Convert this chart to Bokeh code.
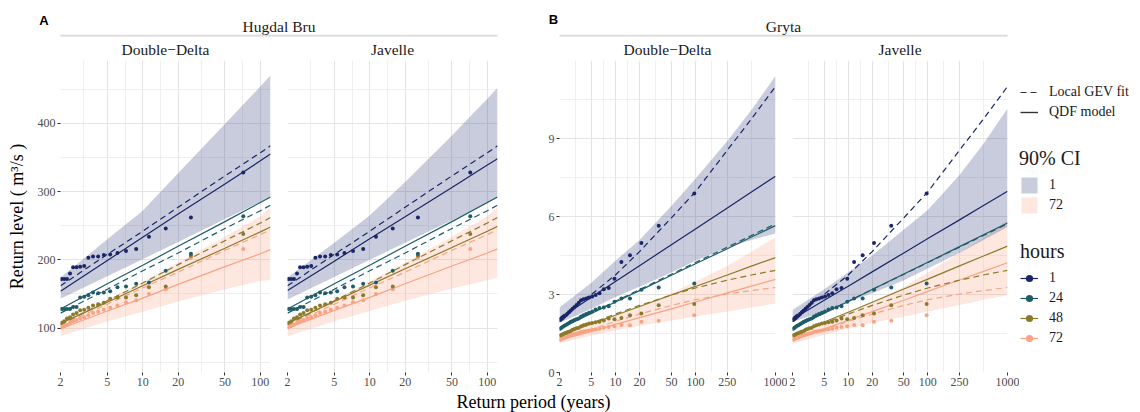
from bokeh.plotting import figure
from bokeh.layouts import row, column
from bokeh.models import (Range1d, FixedTicker, Label, BoxAnnotation, Legend,
                          LegendItem, NumeralTickFormatter)
from bokeh.embed import file_html
from bokeh.resources import INLINE

SERIF = "Liberation Serif"
SANS = "Liberation Sans"

# ------------------------------------------------------------------ data
hours = ["1", "24", "48", "72"]

# ---- Hugdal Bru (A)
hb_T = [2, 5, 10, 20, 50, 100, 122]
hb_gev_1 = [162, 208, 242, 277, 323, 357, 367]
hb_gev_24 = [122, 157, 184, 210, 246, 272, 280]
hb_gev_48 = [105, 140, 166, 193, 228, 254, 262]
hb_gev_72 = [104, 135, 159, 182, 214, 237, 244]

hb_dd_1 = [154, 199, 233, 267, 311, 345, 355]
hb_dd_24 = [128, 165, 192, 220, 256, 284, 292]
hb_dd_48 = [107, 138, 162, 186, 217, 241, 248]
hb_dd_72 = [99, 125, 144, 164, 190, 209, 215]

hb_jv_1 = [155, 198, 231, 263, 306, 339, 348]
hb_jv_24 = [128, 165, 192, 220, 256, 284, 292]
hb_jv_48 = [107, 139, 163, 187, 218, 242, 249]
hb_jv_72 = [100, 126, 145, 165, 191, 210, 216]

hb_dd_ci1_lo = [143, 176, 201, 226, 260, 285, 292]
hb_dd_ci1_hi = [174, 230, 272, 327, 399, 454, 470]
hb_dd_ci72_lo = [88, 110, 124, 139, 157, 169, 171]
hb_dd_ci72_hi = [109, 142, 168, 196, 234, 264, 277]

hb_jv_ci1_lo = [142, 175, 200, 225, 258, 283, 291]
hb_jv_ci1_hi = [174, 225, 265, 314, 382, 436, 452]
hb_jv_ci72_lo = [88, 110, 125, 140, 158, 170, 174]
hb_jv_ci72_hi = [109, 142, 168, 196, 234, 264, 277]

hb_pts_T = [71.6, 25.7, 15.7, 11.3, 8.80, 7.21, 6.10, 5.29, 4.67, 4.18,
            3.78, 3.45, 3.18, 2.94, 2.74, 2.56, 2.41, 2.27, 2.15, 2.04]
hb_pts_1 = [328, 262, 246, 234, 216, 213, 210, 208, 207, 205,
            205, 203, 191, 190, 189, 189, 180, 172, 172, 172]
hb_pts_24 = [264, 209, 184, 167, 165, 161, 160, 154, 152, 151,
             152, 148, 146, 145, 131, 131, 128, 128, 128, 128]
hb_pts_48 = [238, 206, 161, 160, 148, 145, 145, 143, 137, 135,
             133, 130, 127, 126, 122, 120, 116, 114, 110, 108]
hb_pts_72 = [216, 203, 157, 150, 141, 138, 133, 130, 127, 124,
             122, 119, 116, 114, 112, 110, 108, 105, 103, 101]

# ---- Gryta (B)
gr_T = [2, 5, 10, 20, 50, 100, 250, 500, 1000]
gr_gev_1 = [2.10, 3.00, 3.75, 4.65, 5.95, 6.95, 8.55, 9.75, 11.0]
gr_gev_24 = [1.70, 2.29, 2.74, 3.19, 3.78, 4.23, 4.82, 5.27, 5.72]
gr_gev_48 = [1.45, 1.90, 2.25, 2.58, 2.98, 3.25, 3.55, 3.75, 3.93]
gr_gev_72 = [1.25, 1.65, 1.97, 2.25, 2.58, 2.80, 3.02, 3.15, 3.27]

gr_dd_1 = [2.08, 2.89, 3.50, 4.11, 4.91, 5.52, 6.33, 6.94, 7.55]
gr_dd_24 = [1.68, 2.27, 2.71, 3.15, 3.74, 4.18, 4.76, 5.21, 5.65]
gr_dd_48 = [1.43, 1.87, 2.20, 2.54, 2.98, 3.31, 3.75, 4.09, 4.42]
gr_dd_72 = [1.24, 1.58, 1.85, 2.11, 2.45, 2.71, 3.06, 3.32, 3.58]

gr_jv_1 = [2.05, 2.78, 3.32, 3.87, 4.60, 5.15, 5.87, 6.42, 6.97]
gr_jv_24 = [1.68, 2.28, 2.73, 3.19, 3.79, 4.24, 4.84, 5.30, 5.75]
gr_jv_48 = [1.43, 1.94, 2.32, 2.70, 3.21, 3.59, 4.10, 4.48, 4.86]
gr_jv_72 = [1.24, 1.68, 2.01, 2.34, 2.78, 3.12, 3.56, 3.89, 4.22]

gr_dd_ci1_lo = [1.90, 2.45, 2.90, 3.30, 3.85, 4.30, 4.80, 5.10, 5.35]
gr_dd_ci1_hi = [2.50, 3.45, 4.30, 5.10, 6.40, 7.45, 8.90, 10.1, 11.4]
gr_dd_ci72_lo = [1.12, 1.42, 1.62, 1.80, 2.00, 2.15, 2.35, 2.50, 2.65]
gr_dd_ci72_hi = [1.45, 1.85, 2.20, 2.55, 3.05, 3.50, 4.10, 4.65, 5.20]

gr_jv_ci1_lo = [1.95, 2.35, 2.70, 3.05, 3.55, 4.00, 4.60, 5.10, 5.60]
gr_jv_ci1_hi = [2.40, 3.20, 3.85, 4.50, 5.50, 6.25, 7.60, 8.80, 10.15]
gr_jv_ci72_lo = [1.12, 1.45, 1.68, 1.90, 2.15, 2.35, 2.60, 2.80, 2.97]
gr_jv_ci72_hi = [1.45, 1.90, 2.30, 2.70, 3.30, 3.85, 4.60, 5.20, 5.86]

gr_pts_T = [96.6, 34.7, 21.1, 15.2, 11.87, 9.73, 8.24, 7.15, 6.32, 5.66,
            5.12, 4.68, 4.31, 3.99, 3.72, 3.48, 3.27, 3.08, 2.92, 2.77,
            2.63, 2.51, 2.40, 2.30, 2.20, 2.12, 2.04]
gr_pts_1 = [6.88, 5.64, 4.98, 4.51, 4.25, 3.61, 3.25, 3.20, 3.05, 2.98,
            2.92, 2.88, 2.85, 2.82, 2.78, 2.68, 2.60, 2.52, 2.45, 2.38,
            2.32, 2.26, 2.20, 2.15, 2.10, 2.06, 2.02]
gr_pts_24 = [3.42, 3.27, 3.18, 2.85, 2.85, 2.72, 2.55, 2.50, 2.48, 2.42,
             2.35, 2.30, 2.25, 2.20, 2.15, 2.08, 2.05, 2.02, 1.98, 1.95,
             1.90, 1.87, 1.83, 1.80, 1.76, 1.72, 1.68]
gr_pts_48 = [2.63, 2.59, 2.27, 2.20, 2.10, 2.05, 2.08, 2.00, 1.95, 1.93,
             1.90, 1.88, 1.85, 1.82, 1.78, 1.72, 1.70, 1.67, 1.64, 1.60,
             1.57, 1.55, 1.52, 1.50, 1.47, 1.44, 1.42]
gr_pts_72 = [2.20, 1.99, 1.95, 1.82, 1.83, 1.78, 1.75, 1.72, 1.68, 1.66,
             1.64, 1.62, 1.60, 1.58, 1.56, 1.52, 1.50, 1.48, 1.45, 1.43,
             1.41, 1.38, 1.36, 1.34, 1.31, 1.28, 1.26]

# tick labels
hb_xticks = [2, 5, 10, 20, 50, 100]
gr_xticks = [2, 5, 10, 20, 50, 100, 250, 1000]
hb_yticks = [100, 200, 300, 400]
gr_yticks = [0, 3, 6, 9]

# ------------------------------------------------------------------ style
COL = {"1": "#1a2668", "24": "#1d5c68", "48": "#8b7a2a", "72": "#f9a284"}
BAND_COL = {"1": "#2a3a78", "72": "#f9a284"}
BAND_ALPHA = 0.26
FRAME_H = 312
BOTTOM = 20
LEFT_W = 1019


def minor_between(t):
    return [(a * b) ** 0.5 for a, b in zip(t[:-1], t[1:])]


def make_panel(T, x_end, yr, yticks, yminor, xticks, gev, qdf, ci1, ci72,
               pts_T, pts, left, frame_w, right, show_y, ylabel=None):
    p = figure(width=left + frame_w + right, height=FRAME_H + BOTTOM,
               x_axis_type="log", x_range=Range1d(2, x_end),
               y_range=Range1d(*yr), toolbar_location=None,
               output_backend="svg", title_location=None,
               y_axis_location="left" if show_y else None,
               min_border_left=left, min_border_right=right,
               min_border_top=0, min_border_bottom=BOTTOM,
               outline_line_color=None, background_fill_color="white",
               border_fill_color="white")
    xt = FixedTicker(ticks=xticks, minor_ticks=minor_between(xticks))
    yt = FixedTicker(ticks=yticks, minor_ticks=yminor)
    p.xaxis.ticker = xt
    p.xgrid.ticker = xt
    p.ygrid.ticker = yt
    axes = [p.xaxis]
    if show_y:
        p.yaxis.ticker = yt
        axes.append(p.yaxis)
    for ax in axes:
        ax.formatter = NumeralTickFormatter(format="0")
        ax.axis_line_color = None
        ax.major_tick_out = 3
        ax.major_tick_in = 0
        ax.minor_tick_out = 0
        ax.minor_tick_in = 0
        ax.major_tick_line_color = "#333333"
        ax.major_label_text_font = SERIF
        ax.major_label_text_font_size = "12px"
        ax.major_label_text_color = "#4d4d4d"
        ax.major_label_standoff = 2
    if ylabel:
        p.yaxis.axis_label = ylabel
        p.yaxis.axis_label_text_font = SERIF
        p.yaxis.axis_label_text_font_size = "18px"
        p.yaxis.axis_label_text_font_style = "normal"
        p.yaxis.axis_label_text_color = "black"
        p.yaxis.axis_label_standoff = 8
    for g in (p.xgrid, p.ygrid):
        g.grid_line_color = "#e4e4e4"
        g.grid_line_width = 1.1
        g.minor_grid_line_color = "#ebebeb"
        g.minor_grid_line_width = 0.8

    p.varea(x=T, y1=ci72[0], y2=ci72[1], fill_color=BAND_COL["72"], fill_alpha=BAND_ALPHA)
    p.varea(x=T, y1=ci1[0], y2=ci1[1], fill_color=BAND_COL["1"], fill_alpha=BAND_ALPHA)
    for h in reversed(hours):
        p.line(T, gev[h], line_color=COL[h], line_width=1.2, line_dash="6 4")
        p.line(T, qdf[h], line_color=COL[h], line_width=1.2)
    for h in reversed(hours):
        p.scatter(pts_T, pts[h], size=4, color=COL[h], line_width=0)
    return p


hb_gev = {"1": hb_gev_1, "24": hb_gev_24, "48": hb_gev_48, "72": hb_gev_72}
hb_dd = {"1": hb_dd_1, "24": hb_dd_24, "48": hb_dd_48, "72": hb_dd_72}
hb_jv = {"1": hb_jv_1, "24": hb_jv_24, "48": hb_jv_48, "72": hb_jv_72}
hb_pts = {"1": hb_pts_1, "24": hb_pts_24, "48": hb_pts_48, "72": hb_pts_72}
gr_gev = {"1": gr_gev_1, "24": gr_gev_24, "48": gr_gev_48, "72": gr_gev_72}
gr_dd = {"1": gr_dd_1, "24": gr_dd_24, "48": gr_dd_48, "72": gr_dd_72}
gr_jv = {"1": gr_jv_1, "24": gr_jv_24, "48": gr_jv_48, "72": gr_jv_72}
gr_pts = {"1": gr_pts_1, "24": gr_pts_24, "48": gr_pts_48, "72": gr_pts_72}

hb_yr = (35, 492)
gr_yr = (0, 12)
hb_yminor = [50, 150, 250, 350, 450]
gr_yminor = [1.5, 4.5, 7.5, 10.5]

pA1 = make_panel(hb_T, 122, hb_yr, hb_yticks, hb_yminor, hb_xticks, hb_gev, hb_dd,
                 (hb_dd_ci1_lo, hb_dd_ci1_hi), (hb_dd_ci72_lo, hb_dd_ci72_hi),
                 hb_pts_T, hb_pts, 60, 210, 7, True, "Return level ( m\u00b3/s )")
pA2 = make_panel(hb_T, 122, hb_yr, hb_yticks, hb_yminor, hb_xticks, hb_gev, hb_jv,
                 (hb_jv_ci1_lo, hb_jv_ci1_hi), (hb_jv_ci72_lo, hb_jv_ci72_hi),
                 hb_pts_T, hb_pts, 10, 210, 23, False)
pB1 = make_panel(gr_T, 1000, gr_yr, gr_yticks, gr_yminor, gr_xticks, gr_gev, gr_dd,
                 (gr_dd_ci1_lo, gr_dd_ci1_hi), (gr_dd_ci72_lo, gr_dd_ci72_hi),
                 gr_pts_T, gr_pts, 39, 216, 12, True)
pB2 = make_panel(gr_T, 1000, gr_yr, gr_yticks, gr_yminor, gr_xticks, gr_gev, gr_jv,
                 (gr_jv_ci1_lo, gr_jv_ci1_hi), (gr_jv_ci72_lo, gr_jv_ci72_hi),
                 gr_pts_T, gr_pts, 5, 215, 12, False)


def blank(width, height):
    f = figure(width=width, height=height, x_range=Range1d(0, width),
               y_range=Range1d(height, 0), toolbar_location=None,
               output_backend="svg", title_location=None, min_border=0,
               x_axis_location=None, y_axis_location=None,
               outline_line_color=None, background_fill_color="white",
               border_fill_color="white")
    f.xgrid.visible = False
    f.ygrid.visible = False
    return f


def lab(fig, x, y, txt, font, size, color, style="normal"):
    fig.add_layout(Label(x=x, y=y, text=txt, text_align="center",
                         text_baseline="middle", text_font=font,
                         text_font_style=style, text_font_size=size,
                         text_color=color))


# header with panel tags and strips
hdr = blank(LEFT_W, 60)
lab(hdr, 43.5, 19.5, "A", SANS, "13px", "black", "bold")
lab(hdr, 553, 18.5, "B", SANS, "13px", "black", "bold")
for txt, x0, x1 in (("Hugdal Bru", 60, 497), ("Gryta", 559, 1007)):
    hdr.add_layout(BoxAnnotation(left=x0, right=x1, top=34.3, bottom=36.0,
                                 fill_color="#dadada", fill_alpha=1, line_color=None))
    lab(hdr, (x0 + x1) / 2, 25.5, txt, SERIF, "15.5px", "#1a1a1a")
for txt, x in (("Double\u2212Delta", 165), ("Javelle", 392),
               ("Double\u2212Delta", 667), ("Javelle", 899.5)):
    lab(hdr, x, 48.5, txt, SERIF, "15.5px", "#1a1a1a")

# footer with x-axis title
ftr = blank(LEFT_W, 20)
lab(ftr, 533, 9, "Return period (years)", SERIF, "18px", "black")

# legend figure (keys use off-screen placeholder points)
lg = figure(width=1140 - LEFT_W, height=412, x_range=Range1d(0, 1), y_range=Range1d(0, 1),
            toolbar_location=None, output_backend="svg", title_location=None,
            min_border=0, x_axis_location=None, y_axis_location=None,
            outline_line_color=None, background_fill_color="white",
            border_fill_color="white")
lg.xgrid.visible = False
lg.ygrid.visible = False

OFF = [-10, -11]
r_gev = lg.line(x=OFF, y=OFF, line_color="#333333", line_width=1.2, line_dash="6 4")
r_qdf = lg.line(x=OFF, y=OFF, line_color="#333333", line_width=1.4)
r_ci1 = lg.quad(left=OFF[:1], right=OFF[1:], top=OFF[:1], bottom=OFF[1:],
                fill_color=BAND_COL["1"], fill_alpha=BAND_ALPHA, line_color=None)
r_ci72 = lg.quad(left=OFF[:1], right=OFF[1:], top=OFF[:1], bottom=OFF[1:],
                 fill_color=BAND_COL["72"], fill_alpha=BAND_ALPHA, line_color=None)
hour_items = []
for h in hours:
    rl = lg.line(x=OFF, y=OFF, line_color=COL[h], line_width=1.2)
    rs = lg.scatter(x=OFF, y=OFF, size=4, color=COL[h], line_width=0)
    hour_items.append(LegendItem(label=h, renderers=[rl, rs]))


def style_legend(leg, gw, gh, standoff):
    leg.glyph_width = gw
    leg.glyph_height = gh
    leg.label_height = 20
    leg.spacing = 0
    leg.padding = 0
    leg.margin = 0
    leg.label_standoff = standoff
    leg.border_line_color = None
    leg.background_fill_alpha = 0
    leg.label_text_font = SERIF
    leg.label_text_font_size = "14px"
    leg.label_text_color = "#1a1a1a"
    leg.title_text_font = SERIF
    leg.title_text_font_size = "20px"
    leg.title_text_font_style = "normal"
    leg.title_text_color = "#1a1a1a"
    leg.title_standoff = 5


leg1 = Legend(items=[LegendItem(label="Local GEV fit", renderers=[r_gev]),
                     LegendItem(label="QDF model", renderers=[r_qdf])],
              location=(1, 290))
style_legend(leg1, 18, 18, 11)
leg2 = Legend(items=[LegendItem(label="1", renderers=[r_ci1]),
                     LegendItem(label="72", renderers=[r_ci72])],
              title="90% CI", location=(0, 197))
style_legend(leg2, 20, 20, 10)
leg3 = Legend(items=hour_items, title="hours", location=(1, 64))
style_legend(leg3, 18, 18, 11)
for leg in (leg1, leg2, leg3):
    lg.add_layout(leg, "center")

layout = row(column(hdr, row(pA1, pA2, pB1, pB2), ftr), lg)

open("out.html", "w").write(file_html(layout, INLINE))
